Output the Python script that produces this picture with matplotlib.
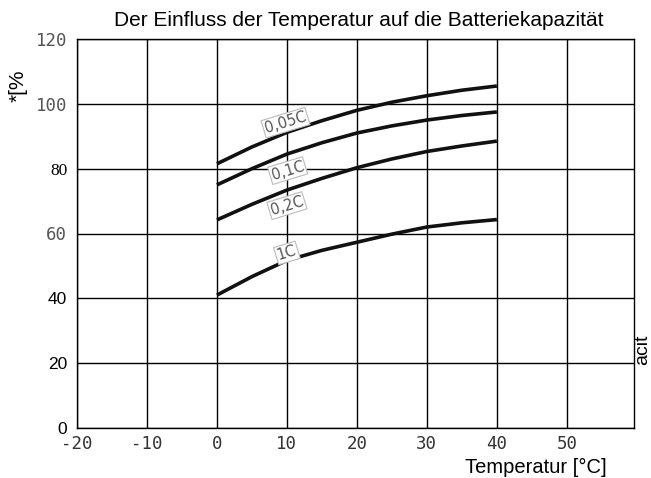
import matplotlib.pyplot as plt
import numpy as np

temps = [0, 5, 10, 15, 20, 25, 30, 35, 40]
cap_005c = [81.5, 86.7, 91.2, 94.8, 98.0, 100.5, 102.5, 104.2, 105.5]
cap_01c = [75.0, 80.0, 84.5, 88.0, 91.0, 93.2, 95.0, 96.4, 97.5]
cap_02c = [64.2, 69.0, 73.4, 77.0, 80.3, 83.0, 85.3, 87.0, 88.5]
cap_1c = [41.0, 46.7, 51.7, 54.8, 57.3, 59.8, 62.0, 63.3, 64.3]
curve_labels = ["0,05C", "0,1C", "0,2C", "1C"]
label_pos = [(9.8, 94.2), (10.1, 79.4), (10.0, 68.6), (10.0, 54.0)]

x_ticks = [-20, -10, 0, 10, 20, 30, 40, 50]
y_ticks = [0, 20, 40, 60, 80, 100, 120]
# the scanned chart mixes fonts on the y axis
y_fonts = ["Liberation Sans", "Liberation Sans", "Liberation Sans", "DejaVu Sans Mono",
           "Liberation Serif", "DejaVu Sans Mono", "DejaVu Sans Mono"]
y_colors = ["black", "black", "black", "#555555", "black", "#555555", "#555555"]

fig = plt.figure(figsize=(6.51, 4.78), dpi=100)
ax = fig.add_axes([77 / 651, 1 - 428 / 478, (634 - 77) / 651, (428 - 39) / 478])

for vals in [cap_005c, cap_01c, cap_02c, cap_1c]:
    ax.plot(temps, vals, color="#111111", lw=2.6, solid_capstyle="butt")

for txt, (tx, ty) in zip(curve_labels, label_pos):
    ax.text(tx, ty, txt, fontsize=10.5, color="#555555", rotation=17,
            ha="center", va="center",
            bbox=dict(boxstyle="square,pad=0.1", fc="white", ec="#bbbbbb", lw=0.8))

ax.set_xlim(-20, 59.6)
ax.set_ylim(0, 120)
ax.set_xticks(x_ticks)
ax.set_yticks(y_ticks)
ax.set_xticklabels([str(t) for t in x_ticks], family="DejaVu Sans Mono",
                   fontsize=12.5, color="#333333")
ax.set_yticklabels([str(t) for t in y_ticks], fontsize=12.5)
for lab, fam, col in zip(ax.get_yticklabels(), y_fonts, y_colors):
    lab.set_family(fam)
    lab.set_color(col)
ax.tick_params(axis="y", length=0, pad=7)
ax.tick_params(axis="x", length=0, pad=5)
ax.grid(True, color="black", lw=1)
for s in ax.spines.values():
    s.set_linewidth(1)
ax.set_axisbelow(True)

fig.text(359 / 651, 1 - 20 / 478, "Der Einfluss der Temperatur auf die Batteriekapazität",
         ha="center", va="center", fontsize=15, family="Liberation Sans")
fig.text(536 / 651, 1 - 467 / 478, "Temperatur [°C]", ha="center", va="center",
         fontsize=14.5, family="Liberation Sans")
fig.text(18 / 651, 1 - 86 / 478, "*[%", rotation=90, ha="center", va="center",
         fontsize=15, family="Liberation Sans")
fig.text(643 / 651, 1 - 350 / 478, "acit", rotation=90, ha="center", va="center",
         fontsize=14, family="Liberation Sans")

fig.savefig("out.png", dpi=100)
